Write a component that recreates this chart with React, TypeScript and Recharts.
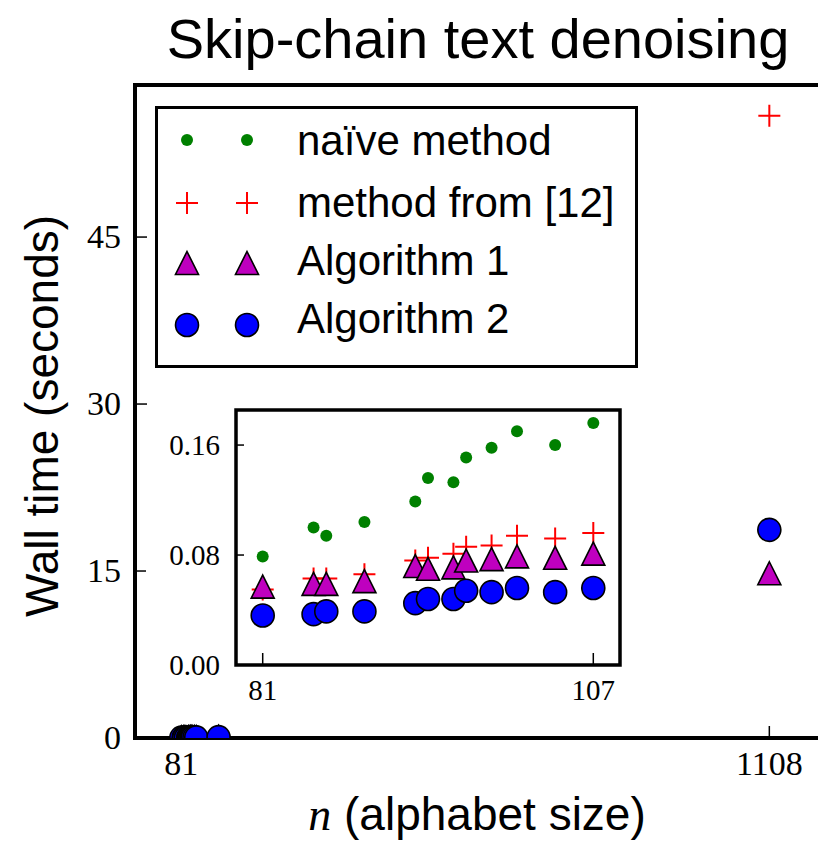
import React from 'react';
import { ScatterChart, Scatter, XAxis, YAxis, ReferenceArea, Legend } from 'recharts';

// ---- data ----
const insetN = [81, 85, 86, 89, 93, 94, 96, 97, 99, 101, 104, 107];
const naiveTimes = [0.079, 0.100, 0.094, 0.104, 0.119, 0.136, 0.133, 0.151, 0.158, 0.170, 0.160, 0.176];
const method12Times = [0.055, 0.063, 0.063, 0.066, 0.076, 0.078, 0.081, 0.086, 0.087, 0.094, 0.092, 0.096];
const alg1Times = [0.057, 0.059, 0.059, 0.061, 0.072, 0.070, 0.071, 0.076, 0.077, 0.079, 0.078, 0.081];
const alg2Times = [0.036, 0.037, 0.039, 0.039, 0.045, 0.048, 0.048, 0.054, 0.053, 0.056, 0.053, 0.056];

const largeN = [146, 1108];
const largeNaive: (number | null)[] = [0.3, null];
const largeMethod12 = [0.15, 55.9];
const largeAlg1 = [0.12, 14.8];
const largeAlg2 = [0.08, 18.7];

const mainXTicks = [81, 1108];
const mainYTicks = [0, 15, 30, 45];
const insetXTicks = [81, 107];
const insetYTicks = [0, 0.08, 0.16];
const seriesNames = ['naïve method', 'method from [12]', 'Algorithm 1', 'Algorithm 2'];
const titleText = 'Skip-chain text denoising';
const yLabelText = 'Wall time (seconds)';
const xLabelVar = 'n';
const xLabelText = ' (alphabet size)';

// ---- helpers ----
const toPoints = (ns: number[], ts: (number | null)[]) =>
  ns.map((n, i) => ({ n, t: ts[i] })).filter((p) => p.t != null);

const mainNaive = toPoints(insetN.concat(largeN), (naiveTimes as (number | null)[]).concat(largeNaive));
const mainM12 = toPoints(insetN.concat(largeN), method12Times.concat(largeMethod12));
const mainA1 = toPoints(insetN.concat(largeN), alg1Times.concat(largeAlg1));
const mainA2 = toPoints(insetN.concat(largeN), alg2Times.concat(largeAlg2));

const inNaive = toPoints(insetN, naiveTimes);
const inM12 = toPoints(insetN, method12Times);
const inA1 = toPoints(insetN, alg1Times);
const inA2 = toPoints(insetN, alg2Times);

const SANS = "'Liberation Sans', Arial, Helvetica, sans-serif";
const SERIF = "'Liberation Serif', 'Times New Roman', serif";
const GREEN = '#008000';
const RED = '#ff0000';
const MAGENTA = '#bf00bf';
const BLUE = '#0000ff';

const DotMark = ({ cx, cy, clip }: any) => <circle cx={cx} cy={cy} r={6} fill={GREEN} clipPath={clip} />;
const PlusMark = ({ cx, cy, clip }: any) => (
  <path d={`M${cx - 11},${cy}H${cx + 11}M${cx},${cy - 11}V${cy + 11}`} stroke={RED} strokeWidth={2} fill="none" clipPath={clip} />
);
const TriMark = ({ cx, cy, clip }: any) => (
  <path
    d={`M${cx},${cy - 11.5}L${cx + 11.5},${cy + 11.5}L${cx - 11.5},${cy + 11.5}Z`}
    fill={MAGENTA}
    stroke="#000"
    strokeWidth={1.6}
    clipPath={clip}
  />
);
const CircMark = ({ cx, cy, clip }: any) => (
  <circle cx={cx} cy={cy} r={11.5} fill={BLUE} stroke="#000" strokeWidth={1.6} clipPath={clip} />
);

const markers = [DotMark, PlusMark, TriMark, CircMark];
const MAIN_CLIP = 'url(#mainPlotClip)';

const MainYTick = (p: any) => (
  <g>
    <line x1={p.x} x2={p.x + 12} y1={p.y} y2={p.y} stroke="#000" strokeWidth={1.5} />
    <text x={p.x - 14} y={p.y + 11} textAnchor="end" fontFamily={SERIF} fontSize={34} fill="#000">
      {p.payload.value}
    </text>
  </g>
);
const MainXTick = (p: any) => (
  <g>
    <line x1={p.x} x2={p.x} y1={p.y} y2={p.y - 12} stroke="#000" strokeWidth={1.5} />
    <text x={p.x} y={p.y + 37} textAnchor="middle" fontFamily={SERIF} fontSize={34} fill="#000">
      {p.payload.value}
    </text>
  </g>
);
const InsetYTick = (p: any) => (
  <g>
    <line x1={p.x} x2={p.x + 8} y1={p.y} y2={p.y} stroke="#000" strokeWidth={1.5} />
    <text x={p.x - 16} y={p.y + 9.5} textAnchor="end" fontFamily={SERIF} fontSize={29} fill="#000">
      {Number(p.payload.value).toFixed(2)}
    </text>
  </g>
);
const InsetXTick = (p: any) => (
  <g>
    <line x1={p.x} x2={p.x} y1={p.y} y2={p.y - 12} stroke="#000" strokeWidth={1.5} />
    <text x={p.x} y={p.y + 35} textAnchor="middle" fontFamily={SERIF} fontSize={29} fill="#000">
      {p.payload.value}
    </text>
  </g>
);

const legendMarkY = [34, 97, 157, 219];
const legendTextY = [49, 111, 169, 227];

const LegendBox = () => (
  <svg width={484} height={264} style={{ display: 'block' }}>
    <rect x={1.5} y={1.5} width={480} height={259} fill="#fff" stroke="#000" strokeWidth={3} />
    {seriesNames.map((name, i) => {
      const M = markers[i];
      return (
        <g key={name}>
          <M cx={32} cy={legendMarkY[i]} />
          <M cx={92} cy={legendMarkY[i]} />
          <text x={142} y={legendTextY[i]} fontFamily={SANS} fontSize={42} fill="#000">
            {name}
          </text>
        </g>
      );
    })}
  </svg>
);

export default function App() {
  return (
    <div style={{ position: 'absolute', left: 0, top: 0, width: 818, height: 842, overflow: 'hidden', background: '#fff' }}>
      <div style={{ position: 'absolute', left: 0, top: 0 }}>
        <ScatterChart width={840} height={842} margin={{ top: 85, right: 18, bottom: 0, left: 0 }}>
          <defs>
            <clipPath id="mainPlotClip">
              <rect x={135} y={85} width={687} height={653} />
            </clipPath>
          </defs>
          <XAxis
            type="number"
            dataKey="n"
            domain={[0, 1200]}
            ticks={mainXTicks}
            interval={0}
            height={104}
            axisLine={false}
            tickLine={false}
            tickSize={0}
            tickMargin={0}
            tick={(p: any) => <MainXTick {...p} />}
            allowDataOverflow
          />
          <YAxis
            type="number"
            dataKey="t"
            domain={[0, 58.66]}
            ticks={mainYTicks}
            interval={0}
            width={135}
            axisLine={false}
            tickLine={false}
            tickSize={0}
            tickMargin={0}
            tick={(p: any) => <MainYTick {...p} />}
            allowDataOverflow
          />
          <Scatter name={seriesNames[0]} data={mainNaive} isAnimationActive={false} shape={(p: any) => <DotMark cx={p.cx} cy={p.cy} clip={MAIN_CLIP} />} />
          <Scatter name={seriesNames[1]} data={mainM12} isAnimationActive={false} shape={(p: any) => <PlusMark cx={p.cx} cy={p.cy} clip={MAIN_CLIP} />} />
          <Scatter name={seriesNames[2]} data={mainA1} isAnimationActive={false} shape={(p: any) => <TriMark cx={p.cx} cy={p.cy} clip={MAIN_CLIP} />} />
          <Scatter name={seriesNames[3]} data={mainA2} isAnimationActive={false} shape={(p: any) => <CircMark cx={p.cx} cy={p.cy} clip={MAIN_CLIP} />} />
          <ReferenceArea x1={0} x2={1200} y1={0} y2={58.66} fill="none" stroke="#000" strokeWidth={4} />
          <Legend
            layout="vertical"
            align="center"
            verticalAlign="middle"
            wrapperStyle={{ position: 'absolute', left: 155, top: 106, width: 484, height: 264 }}
            content={() => <LegendBox />}
          />
          <text x={478} y={58} textAnchor="middle" fontFamily={SANS} fontSize={56} fill="#000">
            {titleText}
          </text>
          <text x={58} y={416} transform="rotate(-90, 58, 416)" textAnchor="middle" fontFamily={SANS} fontSize={46} fill="#000">
            {yLabelText}
          </text>
          <text x={477} y={830} textAnchor="middle" fontFamily={SANS} fontSize={46} fill="#000">
            <tspan fontFamily={SERIF} fontStyle="italic">{xLabelVar}</tspan>
            <tspan>{xLabelText}</tspan>
          </text>
        </ScatterChart>
      </div>
      <div style={{ position: 'absolute', left: 146, top: 405, background: '#fff' }}>
        <ScatterChart width={479} height={310} margin={{ top: 5, right: 5, bottom: 0, left: 0 }}>
          <XAxis
            type="number"
            dataKey="n"
            domain={[78.9, 109.1]}
            ticks={insetXTicks}
            interval={0}
            height={50}
            axisLine={false}
            tickLine={false}
            tickSize={0}
            tickMargin={0}
            tick={(p: any) => <InsetXTick {...p} />}
            allowDataOverflow
          />
          <YAxis
            type="number"
            dataKey="t"
            domain={[0, 0.1855]}
            ticks={insetYTicks}
            interval={0}
            width={90}
            axisLine={false}
            tickLine={false}
            tickSize={0}
            tickMargin={0}
            tick={(p: any) => <InsetYTick {...p} />}
            allowDataOverflow
          />
          <Scatter name={seriesNames[0]} data={inNaive} isAnimationActive={false} shape={(p: any) => <DotMark cx={p.cx} cy={p.cy} />} />
          <Scatter name={seriesNames[1]} data={inM12} isAnimationActive={false} shape={(p: any) => <PlusMark cx={p.cx} cy={p.cy} />} />
          <Scatter name={seriesNames[2]} data={inA1} isAnimationActive={false} shape={(p: any) => <TriMark cx={p.cx} cy={p.cy} />} />
          <Scatter name={seriesNames[3]} data={inA2} isAnimationActive={false} shape={(p: any) => <CircMark cx={p.cx} cy={p.cy} />} />
          <ReferenceArea x1={78.9} x2={109.1} y1={0} y2={0.1855} fill="none" stroke="#000" strokeWidth={3.5} />
        </ScatterChart>
      </div>
    </div>
  );
}
